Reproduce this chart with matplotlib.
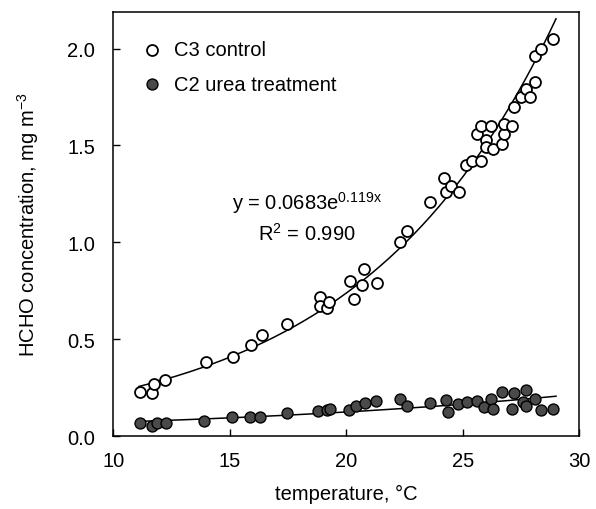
import numpy as np
import matplotlib
matplotlib.use('Agg')
import matplotlib.pyplot as plt

plt.rcParams['font.family'] = ['Liberation Sans', 'DejaVu Sans']
plt.rcParams['mathtext.default'] = 'regular'

# C3 control (open circles)
c3_temp = [11.14, 11.65, 11.77, 12.24, 13.97, 15.15, 15.9, 16.37, 17.47,
           18.86, 18.86, 19.16, 19.28, 20.17, 20.34, 20.68, 20.76, 21.3,
           22.3, 22.6, 23.6, 24.2, 24.3, 24.5, 24.85, 25.15, 25.4, 25.6,
           25.8, 25.8, 26.0, 26.0, 26.2, 26.3, 26.67, 26.75, 26.75, 27.1,
           27.2, 27.5, 27.7, 27.9, 28.1, 28.1, 28.35, 28.86]
c3_hcho = [0.23, 0.22, 0.27, 0.29, 0.38, 0.41, 0.47, 0.52, 0.58,
           0.72, 0.67, 0.66, 0.69, 0.80, 0.71, 0.78, 0.86, 0.79,
           1.00, 1.06, 1.21, 1.33, 1.26, 1.29, 1.26, 1.40, 1.42, 1.56,
           1.42, 1.60, 1.53, 1.49, 1.60, 1.48, 1.51, 1.56, 1.61, 1.60,
           1.70, 1.75, 1.79, 1.75, 1.83, 1.96, 2.00, 2.05]

# C2 urea treatment (filled circles)
c2_temp = [11.14, 11.65, 11.86, 12.28, 13.9, 15.1, 15.86, 16.3, 17.47,
           18.8, 19.16, 19.3, 20.1, 20.4, 20.8, 21.27, 22.3, 22.6, 23.6,
           24.26, 24.35, 24.8, 25.2, 25.6, 25.9, 26.2, 26.3, 26.67, 27.1,
           27.2, 27.6, 27.7, 27.7, 28.1, 28.35, 28.86]
c2_hcho = [0.07, 0.05, 0.07, 0.07, 0.08, 0.10, 0.10, 0.10, 0.12,
           0.13, 0.135, 0.14, 0.135, 0.155, 0.17, 0.18, 0.19, 0.155, 0.17,
           0.185, 0.125, 0.165, 0.175, 0.18, 0.15, 0.19, 0.14, 0.225, 0.14,
           0.22, 0.175, 0.24, 0.155, 0.19, 0.135, 0.14]

# exponential fit for C3 (reported equation)
fit_a, fit_b = 0.0683, 0.119
xt = np.linspace(11.1, 29.0, 200)

# exponential fit for C2 (least squares on log values)
b2, ln_a2 = np.polyfit(c2_temp, np.log(c2_hcho), 1)

fs = 14.5

fig = plt.figure(figsize=(5.96, 5.10), dpi=100)
ax = fig.add_axes([0.19, 0.143, 0.782, 0.832])

ax.plot(xt, fit_a * np.exp(fit_b * xt), color='black', lw=1.1, zorder=1)
ax.plot(xt, np.exp(ln_a2) * np.exp(b2 * xt), color='black', lw=1.1, zorder=1)

ax.scatter(c3_temp, c3_hcho, s=62, facecolors='white', edgecolors='black',
           linewidths=1.3, zorder=2, label='C3 control')
ax.scatter(c2_temp, c2_hcho, s=62, facecolors='#4a4a4a', edgecolors='black',
           linewidths=1.0, zorder=2, label='C2 urea treatment')

ax.text(18.3, 1.21, 'y = 0.0683e$^{0.119x}$', fontsize=fs, ha='center', va='center')
ax.text(18.3, 1.05, 'R$^2$ = 0.990', fontsize=fs, ha='center', va='center')

ax.set_xlim(10, 30)
ax.set_ylim(0, 2.19)
ax.set_xticks([10, 15, 20, 25, 30])
ax.set_yticks([0.0, 0.5, 1.0, 1.5, 2.0])
ax.set_yticklabels(['0.0', '0.5', '1.0', '1.5', '2.0'])
ax.tick_params(direction='in', length=5, width=1.0, labelsize=fs)
ax.tick_params(axis='x', pad=11)
ax.tick_params(axis='y', pad=13)
for sp in ax.spines.values():
    sp.set_linewidth(1.1)

ax.set_xlabel('temperature, °C', fontsize=fs)
ax.set_ylabel('HCHO concentration, mg m$^{-3}$', fontsize=fs)
ax.xaxis.set_label_coords(0.5, -0.112)
ax.yaxis.set_label_coords(-0.155, 0.5)

ax.legend(loc='upper left', frameon=False, fontsize=fs, handletextpad=0.1,
          borderaxespad=0.5, labelspacing=0.75, bbox_to_anchor=(0.0, 0.975))

fig.savefig('out.png', dpi=100)
